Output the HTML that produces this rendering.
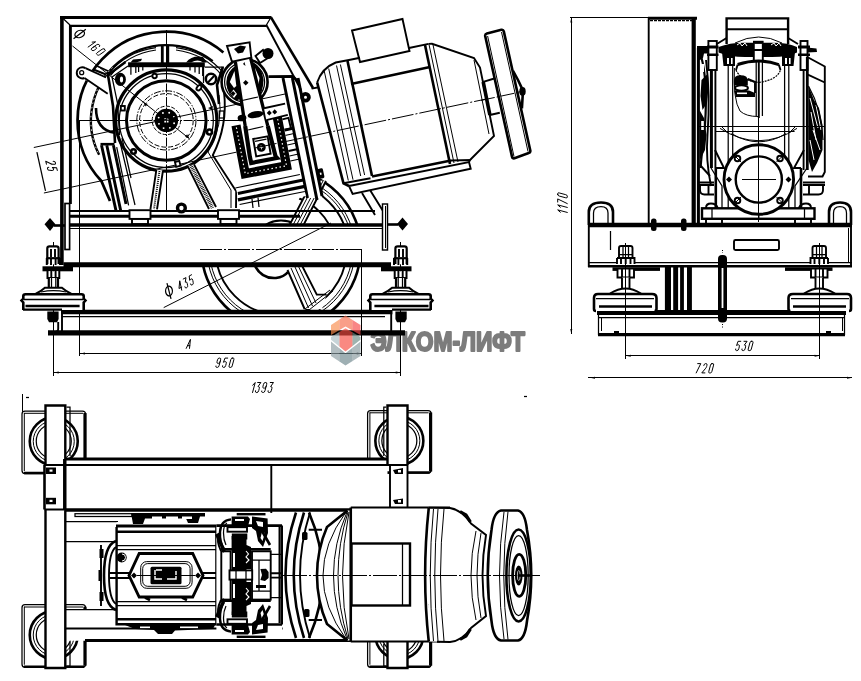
<!DOCTYPE html>
<html><head><meta charset="utf-8">
<style>
html,body{margin:0;padding:0;background:#fff;}
body{width:861px;height:681px;overflow:hidden;font-family:"Liberation Sans",sans-serif;}
svg{display:block;position:absolute;left:0;top:0;}
.k{stroke:#000;fill:none;stroke-width:1.25;}
.t{stroke:#000;fill:none;stroke-width:1.0;}
.m{stroke:#000;fill:none;stroke-width:1.9;}
.b{stroke:#000;fill:none;stroke-width:2.6;}
.B{stroke:#000;fill:none;stroke-width:3.3;}
.w{fill:#fff;}
.f{fill:#000;stroke:none;}
.dim text{font-family:"Liberation Sans",sans-serif;font-style:italic;fill:#000;}
</style></head><body>
<svg width="861" height="681" viewBox="0 0 861 681" shape-rendering="geometricPrecision">
<defs>
<clipPath id="cSheaveLow"><rect x="150" y="266" width="230" height="45"/></clipPath>
<clipPath id="cSheaveUp"><polygon points="262,224 262,219 290,219 300,197 318,176 372,176 372,224"/></clipPath>
<filter id="gray"><feColorMatrix type="saturate" values="0"/></filter>
<filter id="blur2"><feGaussianBlur stdDeviation="0.45"/></filter>
<filter id="blur1"><feGaussianBlur stdDeviation="0.7"/></filter>
</defs>
<rect x="0" y="0" width="861" height="681" fill="#fff"/>
<!-- logo text (under drawing lines) -->
<g filter="url(#blur1)">
<text x="370.4" y="350.6" font-family="Liberation Sans, sans-serif" font-weight="bold" font-size="28.5" fill="#7c7c7c" stroke="#7c7c7c" stroke-width="2.1" stroke-linejoin="round" textLength="154.5" lengthAdjust="spacingAndGlyphs">ЭЛКОМ-ЛИФТ</text>
</g>
<!-- ================= VIEW 1 (front) ================= -->
<g id="v1">
<!-- sheave upper visible part -->
<g clip-path="url(#cSheaveUp)">
 <circle class="b" cx="281" cy="249.5" r="80"/>
 <circle class="t" cx="281" cy="249.5" r="74"/>
 <circle class="t" cx="281" cy="249.5" r="71.5"/>
 <circle class="m" cx="281" cy="249.5" r="67.5"/>
 <circle class="m" cx="281" cy="249.5" r="54"/>
 <circle class="m" cx="281" cy="249.5" r="29"/>
 <path class="w" d="M288.5,227 L313,180 L326,181 L302.5,227 Z"/>
 <path class="m" d="M288.5,227 L313,180 M302.5,227 L326,181"/>
 <path class="t" d="M292,227 L316.5,180 M295.5,227 L320,180 M299,227 L323,181"/>
</g>
<!-- sheave lower visible part -->
<g clip-path="url(#cSheaveLow)">
 <circle class="b" cx="281" cy="249.5" r="79.5"/>
 <circle class="t" cx="281" cy="249.5" r="74"/>
 <circle class="t" cx="281" cy="249.5" r="71.5"/>
 <circle class="m" cx="281" cy="249.5" r="65.5"/>
 <path class="b" d="M255,266 Q262,279 276,278 Q284,277 288,272"/>
 <path class="w" d="M287.5,266 L304.6,309 L322,309 L326.6,294.6 L316.8,294.6 L302.2,266 Z"/>
 <path class="m" d="M287.5,270 L304.6,309 M302.2,266 L316.8,294.6 L326.6,294.6"/>
 <path class="t" d="M291,268 L308.5,308 M295,267 L312.5,306 M298.5,266.5 L316,303"/>
 <path class="t" d="M305,309 L330,290 M309,310 L333,291"/>
</g>
<!-- main beam -->
<rect class="w" x="69" y="226" width="315" height="37"/>
<line class="k" x1="200" y1="249.5" x2="364" y2="249.5" stroke-dasharray="22 2 2 2" style="stroke-width:1.0"/>
<line class="t" x1="163.7" y1="307.6" x2="331" y2="223"/>
<line class="t" x1="79.5" y1="120" x2="79.5" y2="356"/>
<line class="t" x1="361.5" y1="249.5" x2="361.5" y2="356" style="stroke-width:1.0"/>
<!-- beam thick lines -->
<line class="B" x1="69" y1="225" x2="383" y2="225"/>
<line class="t" x1="69" y1="228.5" x2="383" y2="228.5"/>
<line x1="63.5" y1="264.7" x2="391" y2="264.7" stroke="#000" style="stroke-width:4.9"/>
<!-- base plate lines -->
<line class="m" x1="70" y1="211" x2="375" y2="211"/>
<line x1="70" y1="216.3" x2="300" y2="216.3" stroke="#000" style="stroke-width:2.88"/>
<!-- lower channel -->
<line x1="61" y1="312" x2="392.5" y2="312" stroke="#000" style="stroke-width:4.6"/>
<line class="k" x1="62" y1="316.5" x2="385" y2="316.5"/>
<line x1="48" y1="332.9" x2="405" y2="332.9" stroke="#000" style="stroke-width:5.2"/>
<path class="m" d="M62,314 L62,331 M58.2,322 L58.2,329 Q58.2,332 54,332"/>
<path class="m" d="M391.2,314 L391.2,331"/>
</g>
<g id="v1b">
<!-- frame -->
<path class="B" d="M61.9,265 L61.9,16 " style="stroke-width:3.6"/><path class="B" d="M60,17.4 L271.5,17.4" style="stroke-width:3"/>
<path class="b" d="M271,17.3 L313,88"/>
<path class="b" d="M70.4,204 L70.4,25" style="stroke-width:2.9"/><path class="b" d="M69,25.9 L266.8,25.9" style="stroke-width:2.4"/>
<path class="k" d="M61.7,17.3 L70,25 M271,17.3 L266.4,25"/>
<path class="m" d="M266.4,25 L301,90"/>
<!-- frame lower right diagonal -->
<path class="m" d="M362,193 L375,215 M370,190 L383,211"/>
<!-- left side plate -->
<rect class="w" x="65" y="203.5" width="4.6" height="46" stroke="#000" style="stroke-width:1.68"/>
<!-- right side plate -->
<rect class="w" x="382.5" y="204" width="5" height="46" stroke="#000" style="stroke-width:1.44"/>
<line class="t" x1="385.5" y1="206" x2="385.5" y2="248"/>
<!-- side bolts -->
<path class="f" d="M44.5,224.3 L50,218 L55.5,224.3 L50,231 Z"/>
<line class="b" x1="54" y1="225.5" x2="65" y2="225.5"/>
<path class="f" d="M397,224 L402.5,217.5 L408,224 L402.5,230.5 Z"/>
<line class="b" x1="388" y1="224.5" x2="398" y2="224.5"/>

<!-- big handwheel circles -->
<path class="b" d="M223.4,52.5 A88.8,88.8 0 0 0 101.36,181.06 L110,201" style="stroke-width:2.76"/>
<path class="b" d="M212.7,61.1 A75.4,75.4 0 0 0 99.1,154.7" style="stroke-width:2.4"/>
<path d="M112.5,67.5 A75.4,75.4 0 0 0 99.1,154.7" fill="none" stroke="#fff" stroke-width="0.9" stroke-dasharray="1.5 3"/>
<!-- spoke at top -->
<path class="b" d="M162.3,45 L162.3,63 M167.8,45 L167.8,63" style="stroke-width:2.8"/>
<!-- horizontal black bar -->
<rect class="f" x="128.1" y="62.3" width="76.7" height="4.9"/>
<path class="f" d="M130.5,62.5 L133,59.5 L142,58.8 L141,61 L136,62.5 Z M186,62.5 Q192,55 203,57 L207,62.5 L203,62.5 Q198,58.5 191,62.5 Z"/>
<path class="k" d="M130.9,67 L130.9,74.8 M135.8,67 L135.8,73 M138.6,67 L138.6,72 M142.8,67 L142.8,70.5 M190,67 L190,70.5 M195,67 L195,72.5 M199.2,67 L199.2,74 M202.7,67 L202.7,76"/>
<!-- centerlines -->
<line class="t" x1="166.5" y1="30" x2="166.5" y2="211" style="stroke-width:1.0"/>
<line class="t" x1="80" y1="120.5" x2="256" y2="120.5" style="stroke-width:1.0"/>
<!-- flange circles -->
<circle class="w" cx="166.3" cy="120.5" r="50.6"/>
<circle class="b" cx="166.3" cy="120.5" r="50.6" style="stroke-width:3.2"/>
<circle class="k" cx="166.3" cy="120.5" r="47"/>
<circle class="b" cx="166.3" cy="120.5" r="39.8" style="stroke-width:3"/>
<circle class="t" cx="166.4" cy="120.4" r="29.6" stroke-dasharray="7 1.5 1.5 1.5"/>
<circle class="t" cx="166.4" cy="120.4" r="26.8" stroke-dasharray="5 2"/>
<circle class="t" cx="166.4" cy="120.4" r="14.2" stroke-dasharray="4 1.5"/>
<line class="t" x1="166.5" y1="70" x2="166.5" y2="172" stroke-dasharray="9 1.5 1.5 1.5"/>
<line class="t" x1="116" y1="120.5" x2="218" y2="120.5" stroke-dasharray="9 1.5 1.5 1.5"/>
<line class="t" x1="72.5" y1="46" x2="189.6" y2="138.8"/>
<path class="f" d="M143.2,102 l4.5,2 l-2,2.5 z M189.6,138.8 l-4.5,-2 l2,-2.5 z"/>
<circle class="f" cx="166.4" cy="120.4" r="11.7"/>
<circle cx="174.11" cy="123.20" r="0.95" fill="#fff"/><circle cx="169.87" cy="127.83" r="0.95" fill="#fff"/><circle cx="163.60" cy="128.11" r="0.95" fill="#fff"/><circle cx="158.97" cy="123.87" r="0.95" fill="#fff"/><circle cx="158.69" cy="117.60" r="0.95" fill="#fff"/><circle cx="162.93" cy="112.97" r="0.95" fill="#fff"/><circle cx="169.20" cy="112.69" r="0.95" fill="#fff"/><circle cx="173.83" cy="116.93" r="0.95" fill="#fff"/>
<rect x="164.3" y="118.3" width="1.7" height="1.7" fill="#fff"/><rect x="166.8" y="118.3" width="1.7" height="1.7" fill="#fff"/><rect x="164.3" y="120.8" width="1.7" height="1.7" fill="#fff"/><rect x="166.8" y="120.8" width="1.7" height="1.7" fill="#fff"/>
</g>
<g id="v1gear">
<!-- long thin reference lines (dimension 125) -->
<line class="t" x1="33.8" y1="147.5" x2="285" y2="94" style="stroke-width:1.0"/>
<line class="t" x1="43.9" y1="193" x2="256" y2="148" style="stroke-width:1.0"/>
<line class="k" x1="36.9" y1="152.2" x2="45.5" y2="190.8"/>
<!-- phi160 leader -->


<!-- gearbox housing outline left -->
<path class="b" d="M125.5,62 L108,75 L113,106 L115,143"/>
<path class="k" d="M128,66 L112,77 L117.7,104 L119.5,135"/>
<path class="k" d="M108.5,73.6 A73.5,73.5 0 0 1 156,47.7 M110.5,75.5 A71.3,71.3 0 0 1 156,50"/>
<path class="k" d="M176,47.7 A73.5,73.5 0 0 1 224,73.6 M176,50 A71.3,71.3 0 0 1 222,75.5"/>
<!-- lever -->
<path class="w" d="M84,67 L106,77 L107.7,93.7 L85,79.4 Z"/>
<circle class="w" cx="81.7" cy="72.7" r="5.6"/>
<path class="m" d="M85.5,68.2 L106,77.5 M107.7,93.7 L84.5,78"/>
<path class="m" d="M85.5,68.2 A5.6,5.6 0 1 0 84.5,78"/>
<circle class="k" cx="81.7" cy="72.7" r="2"/>
<!-- bracket on radial -->
<path class="m" d="M93.5,69.5 L106,74.5 M97,66 L108,71"/>
<!-- bosses -->
<ellipse class="f" cx="120.4" cy="79.4" rx="5.5" ry="6.6"/>
<ellipse cx="121.5" cy="79.4" rx="1.6" ry="3" fill="#fff"/>
<circle class="w" cx="211" cy="79" r="5.5"/>
<circle class="b" cx="211" cy="79" r="5.2"/>
<line class="m" x1="207.5" y1="83" x2="214" y2="76"/>
<!-- housing top right to brake -->
<path class="k" d="M204.8,67 L224,67 M203.5,67 L203.5,83"/>
<path class="b" d="M222.9,67 L217,85 L219,104"/>
<rect class="w" x="219.3" y="111" width="4.7" height="7"/><rect class="k" x="219.3" y="111" width="4.7" height="7"/>
<!-- flange small bolts -->
<circle class="w" cx="154.6" cy="76" r="2.2"/><circle class="m" cx="154.6" cy="76" r="2.2"/>
<ellipse class="w" cx="199" cy="87.8" rx="2" ry="3" transform="rotate(40 199 87.8)"/><ellipse class="m" cx="199" cy="87.8" rx="2" ry="3" transform="rotate(40 199 87.8)"/>
<rect class="w" x="120.8" y="106" width="4" height="4.5"/><rect class="m" x="120.8" y="106" width="4" height="4.5"/>
<circle class="w" cx="133.5" cy="151.5" r="2.3"/><circle class="b" cx="133.5" cy="151.5" r="2.3"/>
<rect class="w" x="175.5" y="161.5" width="4.5" height="5" transform="rotate(-15 177 164)"/><rect class="m" x="175.5" y="161.5" width="4.5" height="5" transform="rotate(-15 177 164)"/>
<circle class="w" cx="209.5" cy="132" r="2.5"/><circle class="b" cx="209.5" cy="132" r="2.5"/>
<path class="f" d="M208,108 l5,-2 l-1,4 z"/>
<!-- left guard arc and leg -->
<path class="b" d="M96,108 Q96,130 114.4,132.6"/>

<path class="b" d="M100.5,144.2 L114.5,144.2"/>
<path class="B" d="M101.5,145.2 L116,210.6 M106.8,145.2 L120.7,210.6 M113.4,145.2 L126,204" style="stroke-width:2.9"/>
<path class="k" d="M116.7,147.2 L128.6,205.3"/>
<path class="k" d="M119.5,140 L135,205 M122,138 L131,178"/>
<!-- struts -->
<path class="w" d="M156.4,169.6 L163,170.4 L157,209.3 L150.4,209.3 Z"/>
<path class="m" d="M156.4,169.6 L150.4,209.3 M163,170.4 L157,209.3"/>
<path d="M159.5,171 L154,209" stroke="#000" style="stroke-width:1.92" stroke-dasharray="1 1"/>
<path class="w" d="M187.3,165.3 L194,164.4 L216,207 L209,209 Z"/>
<path class="m" d="M187.3,165.3 L209,209 M194,164.4 L216,207"/>
<path d="M190.7,165 L212.5,208" stroke="#000" style="stroke-width:3.6" stroke-dasharray="0.8 0.9"/>
<!-- small ring -->
<circle class="w" cx="181.4" cy="208" r="5"/>
<circle class="b" cx="181.4" cy="208" r="3.9" style="stroke-width:3.4"/>
<!-- foot blocks -->
<rect class="w" x="129.5" y="210.2" width="21" height="8.7"/><rect class="m" x="129.5" y="210.2" width="21" height="8.7"/>
<rect class="w" x="132" y="219" width="16" height="5"/><rect class="m" x="132" y="219" width="16" height="5"/>
<rect class="w" x="218" y="210.2" width="21" height="8.7"/><rect class="m" x="218" y="210.2" width="21" height="8.7"/>
<rect class="w" x="220.5" y="219" width="16" height="5"/><rect class="m" x="220.5" y="219" width="16" height="5"/>
</g>
<g id="v1brake">
<!-- housing right lower outline -->
<path class="m" d="M224,92 Q228,125 212.8,155.3 L236.2,191.3 L236,208"/>
<path class="t" d="M219,95 Q224,125 208,152 L231,190 L231,208"/>

<!-- circle behind bar -->
<circle class="w" cx="244.6" cy="82" r="23"/>
<circle class="b" cx="244.6" cy="82" r="23"/>
<circle class="k" cx="244.6" cy="82" r="20"/>
<circle class="k" cx="244.6" cy="82" r="17.5"/>
<path class="f" d="M236.5,65.5 Q227,70 226.5,84 Q227.5,95 236,100.5 L240.5,99 L236.5,65.5 Z"/>
<path class="w" d="M234.5,71 L229.8,82 L234,88 L236.3,86 Z"/>
<path class="w" d="M233.5,89.5 L237,94 L234,98 L230.5,93.5 Z"/>
<path class="f" d="M252.5,62 Q262,66 263.5,80 Q263,92 258,99 L254,98 Z"/>
<path class="w" d="M255,68 L259.5,78 L258,88 L256,84 Z"/>
<path class="w" d="M258.6,89 L260.5,92 L258.5,96 L257,92.5 Z"/>
<!-- knob -->
<path class="w" d="M255.5,56 L263,50 L268,58 L260,63 Z"/><path class="m" d="M255.5,56 L263,50 L268,58 L260,63 Z"/>
<circle class="f" cx="268" cy="53.5" r="5.5"/>
<!-- mounting plate lines -->
<path class="w" d="M283,77 L293,75 L322,198 L306,198 Z"/>
<path class="b" d="M268.5,76.6 L293,76.4 L299,82.6"/>
<path class="b" d="M283,78 L307.5,198" style="stroke-width:2.9"/>
<path class="b" d="M292.4,78 L317,200 M298,78 L322,196" style="stroke-width:3"/>
<circle class="w" cx="305.5" cy="97.3" r="4.3"/><circle class="b" cx="305.5" cy="97.3" r="3.4" style="stroke-width:3.8"/>
<path class="m" d="M311.6,88.6 L320,87"/>
<rect class="f" x="317.8" y="168.5" width="6" height="10" rx="1.5" transform="rotate(-12 321 174)"/>
<rect x="320" y="172.5" width="1.6" height="2.2" fill="#fff" transform="rotate(-12 321 174)"/>
<!-- fins below magnet -->
<path class="w" d="M236,188 L300,174.5 L306,196 L240,208 Z"/>
<path class="k" d="M235.4,188 L299.9,174.5"/>
<path class="b" d="M237.9,193.4 L303.2,180.1" style="stroke-width:3.1"/>
<path class="b" d="M237.9,199.9 L304.9,186.4" style="stroke-width:3.3"/>
<path class="k" d="M239.6,204.5 L304.9,191.5"/>
<path class="k" d="M252,199 L253,208 M258,197.5 L259,207"/>
<!-- section lines right of magnet -->
<path class="m" d="M276.5,120.8 L288.4,117.8 L291,128.5 L278.5,131.3"/>
<path d="M278,131.6 L292.6,128.4" stroke="#000" stroke-width="3" fill="none"/>
<path class="k" d="M280.5,136.5 L294,133.5 M283,146 L296.4,143 M285,157 L298.5,154 M286,162 L299.5,159"/>
<path class="m" d="M284,152 L298,149"/>
<path class="k" d="M293.5,133 L299.5,160"/>
<!-- magnet block outer U frame -->
<g transform="translate(233.05,126) rotate(-10.8)">
<path class="w" d="M-1.6,0 L-1.6,53.7 L49.7,53.7 L49.7,-4 Z"/>
<path d="M3,0 L3,49.1 L45.1,49.1 L45.1,-5" fill="none" stroke="#000" stroke-width="9.2"/>
<path d="M3,2 L3,49.1 L45.1,49.1 L45.1,-3" fill="none" stroke="#fff" stroke-width="1.2" stroke-dasharray="1.5 2.6"/>
</g>
<!-- brake arm -->
<path class="w" d="M227,46 L249.6,42.3 L251.3,57.6 L275.6,156.5 L277,158 L251.2,163 L249.4,154.5 L235.4,62.7 L232,61.8 Z"/>
<path class="m" d="M227,46 L249.6,42.3 L251.3,57.6 L232,61.8 Z"/>
<path class="f" d="M234,49 L240,45.5 L246,46.5 L243,52.5 L238,53.5 Z"/>
<path d="M235.4,62 L245.2,126 M250.6,58 L267.8,126" fill="none" stroke="#000" stroke-width="3.3"/><path d="M245.2,126 L249.8,156.5 L251.2,163 L277,158 L275.6,156.5 L267.8,126" fill="none" stroke="#000" stroke-width="4.2" stroke-linejoin="miter"/>
<path class="f" d="M243,64 l1.5,-2 l1,4 z"/>
<path class="f" d="M245.7,80 L248.5,82.8 L245.7,85.6 L243,82.8 Z"/>
<path class="f" d="M233,91 L235.5,93.6 L233,96.2 L230.6,93.6 Z"/>
<path class="k" d="M240,101 L258,97"/>
<ellipse class="f" cx="255.5" cy="114.6" rx="8" ry="3.3" transform="rotate(-10 255.5 114.6)"/>
<ellipse class="f" cx="242" cy="118" rx="4.4" ry="3.2" transform="rotate(-10 242 118)"/>
<path class="k" d="M248.1,130 L263.3,126.5"/>
<!-- innermost square + bolt -->
<path class="m" d="M253.2,139 L267.6,136.3 L270.6,153.7 L256.2,156.4 Z"/>
<path class="k" d="M255,141.3 L266.5,139.2"/>
<circle class="f" cx="261.3" cy="147.4" r="4.4"/>
<path d="M259.3,147.7 L263.3,147.1 M261,145.4 L261.6,149.4" stroke="#fff" stroke-width="0.8"/>
<!-- ++ box -->
<path class="w" d="M264,108.2 L285.1,103.6 L287.8,114.8 L266.3,120.1 Z"/>
<path class="m" d="M264,108.2 L285.1,103.6 M287.8,114.8 L266.3,120.1"/>
<path class="f" d="M266.8,112.9 l2.5,-2.6 l2.5,2.6 l-2.5,2.6 z M272.2,111.9 l2.5,-2.6 l2.5,2.6 l-2.5,2.6 z"/>
</g>
<g id="v1motor">
<!-- motor body white mask -->
<path class="w" d="M317,82.7 Q322,68 335.7,62.5 L349,60 L428.5,43.9 L431,44 L474,58 L480,67.5 L494,136 L470,160 L469,162 L470.7,168.8 L352.6,194 L349,186 L343.5,183.3 Z"/>
<!-- terminal box -->
<path class="w" d="M352,30.5 L402.5,19 L409.5,51 L360,62 Z"/>
<path class="m" d="M352,30.5 L402.5,19 L409.5,51 L360,62 Z"/>
<!-- body top -->
<path class="m" d="M317,82.7 Q322,68 335.7,62.5 L349,60 L360,57.8 M409,48 L428.5,43.9"/>
<path class="b" d="M351,84 L430,67"/>
<!-- front flange lines -->
<path class="b" d="M317.2,82.7 L343.5,183.3 L349,186"/>
<path class="m" d="M343.5,183.3 L370.5,178.2"/>
<path class="t" d="M324,70 L348.3,180.5 M328.7,68.5 L353,179.7 M336.5,65.5 L360.7,176 M340.4,64.5 L364.6,175"/>
<path class="b" d="M347.5,61 L372,176"/>
<!-- bottom -->
<path class="m" d="M349,186 L469,162 L470.7,168.8 L352.6,194 Z"/>
<path class="b" d="M372,176.5 L451,160.5"/>
<!-- rear flange / bell -->
<path class="b" d="M425,45 L450,164"/>
<path class="t" d="M429,44.5 L454,163 M433,44.8 L458,162"/>
<path class="m" d="M428.5,43.9 L432,43.8 L474,58 L480,67.5 L494,136 L470,160"/>
<path class="t" d="M474,60 L489,134"/>
<path class="m" d="M451,160.5 L470,160 L469,162"/>
<!-- center line -->
<line class="t" x1="255" y1="148" x2="524" y2="91" stroke-dasharray="22 2 2 2" style="stroke-width:1.0"/>
<!-- shaft stub -->
<path class="w" d="M483.2,81.8 L494.3,78.5 L499.8,112.7 L489.9,115 Z"/>
<path class="m" d="M483.2,81.8 L494.3,78.5 M489.9,115 L499.8,112.7"/>
<path class="B" d="M483.2,81.8 L489.9,115" style="stroke-width:3.6"/>
<!-- handwheel -->
<path class="w" d="M485.2,36 Q484.9,34 486.9,33.4 L501.3,29.8 Q503.3,29.4 503.8,31.4 L530.3,150.5 Q530.7,152.5 528.7,153 L514.5,158.3 Q512.5,158.8 512,156.6 Z"/>
<path class="b" d="M485.2,36 Q484.9,34 486.9,33.4 L501.3,29.8 Q503.3,29.4 503.8,31.4 L530.3,150.5 Q530.7,152.5 528.7,153 L514.5,158.3 Q512.5,158.8 512,156.6 Z"/>
<path class="t" d="M487.6,36 L514,156.5 M501.5,32 L528,151.5"/>
<path class="b" d="M513,70.8 L518,80 L523,90.6 L521.9,108.3"/>
<ellipse class="f" cx="522.5" cy="91.5" rx="3.2" ry="4.4"/>
<line class="t" x1="481" y1="100.4" x2="517" y2="92.7" stroke-dasharray="14 2 2 2"/>
</g>
<g id="v1feet">
<!-- left foot: center x=53.75 -->
<g id="footL">
 <line class="t" x1="53.5" y1="242" x2="53.5" y2="376"/>
 <!-- upper nut / stud top -->
 <rect class="w" x="47.3" y="246.3" width="11.3" height="18"/>
 <path class="b" d="M47.3,264 L47.3,248.5 Q47.3,246.3 49.5,246.3 L56.4,246.3 Q58.6,246.3 58.6,248.5 L58.6,264" style="stroke-width:2.2"/>
 <path class="m" d="M51,249 L51,257 M55,249 L55,257"/>
 <path class="b" d="M46.5,258.2 L60.2,258.2" style="stroke-width:2.2"/>
 <path class="b" d="M46.8,258 L46.8,265 M60,258 L60,265" style="stroke-width:2"/>
 <path class="m" d="M51,259 L51,265 M55.6,259 L55.6,265"/>
 <!-- washer -->
 <rect class="f" x="42.5" y="266.3" width="30.5" height="5"/>
 <!-- lower nut -->
 <rect class="w" x="47.3" y="271.3" width="12" height="6.5"/>
 <path class="b" d="M47.5,271 L47.5,278 L59.3,278 L59.3,271" style="stroke-width:2"/>
 <path class="m" d="M51.3,271 L51.3,278 M55.6,271 L55.6,278"/>
 <!-- stud -->
 <rect class="w" x="48.5" y="278" width="10" height="10"/>
 <path class="b" d="M48.8,278 L48.8,288 M58,278 L58,288" style="stroke-width:2.2"/>
 <path class="k" d="M51.5,278 L51.5,288 M55.8,278 L55.8,288"/>
 <!-- dome -->
 <path class="w" d="M36,294 L44.9,287.5 L61.9,287.5 L70.7,294 Z"/>
 <path class="b" d="M35,294.2 Q41,291.5 44.9,287.8 L61.9,287.8 Q66,291.5 72,294.2" style="stroke-width:2"/>
 <path class="k" d="M41,292 Q53.5,289.3 66,292"/>
 <!-- body -->
 <rect class="w" x="22.3" y="294" width="62.2" height="16"/>
 <path class="b" d="M23.3,310 L23.3,302.5 L21.5,300.5 L23.3,298.5 L23.3,296 Q23.3,294.3 25.5,294.3 L81.5,294.3 Q83.7,294.3 83.7,296 L83.7,298.5 L85.5,300.5 L83.7,302.5 L83.7,310"/>
 <line class="k" x1="24" y1="299.5" x2="83" y2="299.5" style="stroke-width:1.4"/>
 <line class="b" x1="25.5" y1="306" x2="79.6" y2="306" style="stroke-width:2.5"/>
 <line class="b" x1="23" y1="309.6" x2="62" y2="309.6" style="stroke-width:2.4"/>
 <!-- nut below -->
 <path class="f" d="M47.3,311.5 L58.6,311.5 L58.6,319 L57,322.2 L49,322.2 L47.3,319 Z"/>
</g>
<use href="#footL" transform="translate(454,0) scale(-1,1)"/>
</g>
<!-- ================= VIEW 2 (side) ================= -->
<g id="v2">
<!-- dimension lines -->
<line class="t" x1="571.5" y1="17.5" x2="571.5" y2="334"/>
<line class="t" x1="570" y1="17.5" x2="649" y2="17.5"/>
<!-- frame column -->
<rect class="w" x="648.5" y="18" width="46" height="207"/>
<line class="m" x1="648.7" y1="18" x2="648.7" y2="225"/>
<line class="B" x1="648" y1="18.3" x2="697" y2="18.3" style="stroke-width:3.12"/>
<line class="k" x1="650" y1="20.5" x2="694" y2="20.5" stroke-dasharray="3 1"/>
<line x1="693.7" y1="18" x2="693.7" y2="225" stroke="#000" style="stroke-width:4.2"/>
<!-- main beam -->
<rect class="w" x="589" y="225" width="262" height="41"/>
<line x1="588" y1="225" x2="852" y2="225" stroke="#000" style="stroke-width:4.32"/>
<line class="m" x1="588.8" y1="225" x2="588.8" y2="267"/>
<line class="m" x1="851" y1="225" x2="851" y2="267"/>
<line class="t" x1="848.5" y1="228" x2="848.5" y2="262"/>
<line class="k" x1="588" y1="262.5" x2="852" y2="262.5"/>
<line class="b" x1="588" y1="266.2" x2="852" y2="266.2" style="stroke-width:2.4"/>
<line class="k" x1="610.5" y1="231" x2="610.5" y2="250"/>
<!-- lifting eyes -->
<path class="b" d="M588.8,225 L588.8,212 Q588.8,202.5 601,202.5 Q613,202.5 613,212 L613,225"/>
<path class="k" d="M593.5,225 L593.5,213 Q593.5,206.5 601,206.5 Q608,206.5 608,213 L608,225"/>
<path class="b" d="M829,225 L829,212 Q829,202.5 840,202.5 Q851,202.5 851,212 L851,225"/>
<path class="k" d="M833.5,225 L833.5,213 Q833.5,206.5 840,206.5 Q846.5,206.5 846.5,213 L846.5,225"/>
<!-- column bolts -->
<rect class="f" x="651" y="218.5" width="5.5" height="12.5" rx="2.5"/>
<rect class="f" x="681" y="218.5" width="5.5" height="12.5" rx="2.5"/>
<!-- slot rect -->
<rect class="m" x="734" y="240" width="45" height="10" rx="1.5"/>
<!-- sheave bars -->
<rect class="f" x="664.9" y="267" width="6.1" height="44"/>
<rect class="f" x="673.2" y="267" width="4.9" height="44"/>
<rect class="f" x="680.1" y="267" width="3.8" height="44"/>
<rect class="f" x="687" y="267" width="4.9" height="44"/>
<!-- lower channel -->
<line x1="597" y1="312.6" x2="846" y2="312.6" stroke="#000" style="stroke-width:5.04"/>
<line class="k" x1="598" y1="317.5" x2="845" y2="317.5"/>
<line class="b" x1="598" y1="334.6" x2="845" y2="334.6" style="stroke-width:3.12"/>
<line class="k" x1="598.5" y1="313" x2="598.5" y2="335"/>
<line class="k" x1="844.5" y1="313" x2="844.5" y2="335"/>
<line class="t" x1="601.5" y1="317" x2="601.5" y2="331"/>
<line class="t" x1="842.5" y1="317" x2="842.5" y2="331"/>
<rect class="f" x="614" y="331" width="5" height="3"/>
<rect class="f" x="826" y="331" width="5" height="3"/>
<!-- rope clamp bolt -->
<rect class="f" x="718" y="255" width="9" height="67.5" rx="4"/>
<rect x="721.6" y="268" width="1.8" height="40" fill="#fff"/>
<path class="t" d="M722.5,250 L722.5,253 M722.5,324 L722.5,328" stroke-dasharray="1 1.5"/>
</g>
<g id="v2m">
<!-- body white -->
<rect class="w" x="698" y="44" width="127" height="164"/>
<!-- motor box -->
<rect class="w" x="726.6" y="18.4" width="61.5" height="26"/>
<path class="b" d="M726.6,44 L726.6,18.4 L788.1,18.4 L788.1,44" style="stroke-width:2.4"/>
<line class="m" x1="726.6" y1="29.3" x2="788.1" y2="29.3"/>
<path class="t" d="M735,43 Q758.8,31 782,43"/>
<!-- left column thick lines -->
<path class="B" d="M698.4,48 L698.4,225" style="stroke-width:3"/>
<path class="f" d="M697,46 L709,46 L709,53.5 L704,53.5 L703,58 L700,60 L697,60 Z"/>
<path class="f" d="M701.5,80 L707.5,74 L708.5,88 L707,103 L702.5,110 L700.5,96 Z"/>
<path class="f" d="M699.5,110 L704,118 L706.5,135 L705,150 L700,160 Z"/>
<path class="b" d="M701,56 Q708,80 705,125 Q702,150 700.5,168" style="stroke-width:2.2"/>
<path class="m" d="M706,60 Q710.5,95 707.5,135 Q705.5,160 711,186"/>
<path class="m" d="M700,165 L710,176"/>
<rect class="w" x="700.5" y="64" width="3.5" height="8"/><rect class="w" x="701.2" y="121" width="2.6" height="9"/>
<!-- black band -->
<path class="f" d="M718.5,47 Q730,42.5 745,42.7 L772,42.7 Q788,42.5 797,47 L797,52.5 Q788,57 772,57 L745,57 Q730,57 718.5,52.5 Z"/>
<path class="f" d="M722,52 L735,56 L735,66 L723.5,66 Z M795,52 L782,56 L782,66 L793.5,66 Z"/>
<rect x="727" y="58" width="2" height="6" fill="#fff"/><rect x="731" y="58" width="1.6" height="6" fill="#fff"/>
<rect x="785" y="58" width="2" height="6" fill="#fff"/><rect x="789" y="58" width="1.6" height="6" fill="#fff"/>
<path d="M737,45 l3,-2 l2,3 l3,-3 l2,3 M771,45 l3,-2 l2,3 l3,-3 l2,3" stroke="#fff" style="stroke-width:1.0" fill="none"/>
<!-- center post -->
<rect class="w" x="753.8" y="43.5" width="9" height="17"/>
<path class="m" d="M753.8,43.5 L753.8,60.5 M762.8,43.5 L762.8,60.5 M753.8,50 L762.8,50"/>
<rect class="f" x="753" y="40.8" width="10.6" height="3"/>
<!-- bolt assemblies -->
<rect class="w" x="708.4" y="41" width="8.4" height="29"/><rect class="m" x="708.4" y="41" width="8.4" height="29"/>
<rect class="f" x="707" y="45.5" width="11.5" height="3"/><rect class="f" x="707" y="53.5" width="11.5" height="2.5"/>
<rect class="w" x="800.5" y="41" width="7" height="29"/><rect class="m" x="800.5" y="41" width="7" height="29"/>
<rect class="f" x="798" y="45.5" width="12" height="3"/><rect class="f" x="798" y="53.5" width="12" height="2.5"/>
<path class="f" d="M807,47.5 L816.5,48.5 L817,52 L807,52.5 Z"/>
<path class="m" d="M716.8,44 L726.6,38 M798,44 L788.1,38"/>
<!-- umbrella arc -->
<path class="B" d="M737.7,64.6 Q758.8,57.5 778.8,64.6" style="stroke-width:3.12"/>
<path class="m" d="M737.7,64.6 L736,70 M778.8,64.6 L780.5,70"/>
<!-- chain arc and U-bag -->
<path class="k" d="M736,70 Q740,80 758.8,82.5 Q777,80 780.5,70" stroke-dasharray="2 1"/>
<path class="t" d="M734.4,68 Q733,100 740,111 Q746,116.5 758,116.5"/>
<!-- oil cap -->
<path class="f" d="M734,80.5 Q734,75.3 740.5,75.3 Q747.8,75.3 747.8,80.5 L747.8,85.5 L734,85.5 Z"/>
<ellipse class="w" cx="741.5" cy="88" rx="6.5" ry="2.6"/><ellipse class="m" cx="741.5" cy="88" rx="6.5" ry="2.6"/>
<path class="f" d="M734,90.5 L749,90.5 L755,93 L755,97 L736,97 Z"/>
<rect x="737" y="92.5" width="10" height="1.6" fill="#fff"/>
<path class="m" d="M747.8,79 L755,82 L755,93"/>
<!-- vertical body lines -->
<path class="b" d="M711.4,69 L711.4,168" style="stroke-width:3"/><path class="m" d="M715.4,69 L715.4,168"/>
<path class="k" d="M728.2,66 L728.2,170 M732.7,66 L732.7,160"/>
<path class="k" d="M756.2,62 L756.2,116 M762.4,62 L762.4,116"/>
<path class="m" d="M758.8,60 L758.8,118"/>
<path class="k" d="M784.6,66 L784.6,160 M788.8,66 L788.8,170"/>
<path class="m" d="M803.6,70 L803.6,170"/><path class="b" d="M807.3,57 L807.3,170" style="stroke-width:2.8"/>
<!-- right flap -->
<path class="m" d="M807.3,57 L824.8,66.5 L824.8,172 L822.5,176.5 L808,176.5"/>
<path class="m" d="M807.3,74.4 L824.8,82.5"/>
<path class="f" d="M808.5,86 L814,100 L819,108 L822.5,125 L822.5,150 L817,163 L812,172 L808.5,160 Z"/>
<path d="M810,98 L818,128 M811,112 L816,140 M813,130 L820,150 M810,140 L814,160 M816,105 L821,130" stroke="#fff" stroke-width="1" fill="none"/>
<path class="k" d="M808.5,86 Q822,110 823,140"/>
<!-- horizontal lines mid -->
<line class="t" x1="697" y1="126.5" x2="825" y2="126.5"/>
<line class="t" x1="715.7" y1="131.5" x2="794.6" y2="131.5"/>
<path class="t" d="M720,128.4 Q758.8,153 797,128.4 M731.5,133.6 Q758.8,150 786,133.6"/>
<path class="t" d="M722,127 l6,6 M795,127 l-6,6"/>
<line class="t" x1="758.5" y1="118" x2="758.5" y2="220"/>
</g>
<g id="v2f">
<!-- lower housing sides -->
<path class="m" d="M715,150 L724,168 L716,168 M804,150 L794,168 L801,168"/>
<path class="b" d="M715.8,168 L715.8,208 M801,168 L801,208" style="stroke-width:2.6"/>
<path class="k" d="M711,168 L722,186 L722,208 M807,168 L795,186 L795,208"/>
<path class="k" d="M728.2,170 L728.2,208 M788.8,170 L788.8,208"/>
<!-- side brackets -->
<path class="m" d="M698.5,182.5 L714,182.5 M698.5,185 L714,185 M700,185 L700,190 Q700,194.5 704.5,194.5 L714,194.5 M708.5,185 L708.5,194.5"/>
<path class="m" d="M825,182.5 L803,182.5 M825,185 L803,185 M823,185 L823,190 Q823,194.5 818.5,194.5 L803,194.5 M809,185 L809,194.5"/>
<!-- base plate -->
<rect class="w" x="702" y="208.3" width="112.5" height="10.5"/>
<rect class="b" x="702" y="208.3" width="112.5" height="10.5" style="stroke-width:2.4"/>
<path class="k" d="M712,208.3 L712,218.8 M804.5,208.3 L804.5,218.8 M758.8,208.3 L758.8,218.8"/>
<path class="m" d="M706,218.8 L706,224 M722,218.8 L722,224 M795,218.8 L795,224 M811,218.8 L811,224"/>
<path class="m" d="M706,208 Q706,203.5 711,203.5 Q716,203.5 717.8,208 M811,208 Q811,203.5 806,203.5 Q801,203.5 798.8,208"/>
<!-- flange -->
<circle class="w" cx="758.8" cy="179.5" r="34.8"/>
<circle class="b" cx="758.8" cy="179.5" r="34.8" style="stroke-width:2.88"/>
<circle class="b" cx="758.8" cy="179.5" r="23.1" style="stroke-width:2.4"/>
<line class="t" x1="742" y1="179.5" x2="776" y2="179.5"/>
<line class="t" x1="758.5" y1="140" x2="758.5" y2="222"/>
<circle class="m" cx="737.5" cy="158.5" r="2.8"/><circle class="m" cx="780" cy="158.5" r="2.8"/>
<circle class="m" cx="737.5" cy="200.5" r="2.8"/><circle class="m" cx="780" cy="200.5" r="2.8"/>
<path class="f" d="M726,179.5 l3,-3 l3,3 l-3,3 z M785.5,179.5 l3,-3 l3,3 l-3,3 z"/>
<path class="t" d="M734,155 l7,7 M783.5,155 l-7,7 M734,204 l7,-7 M783.5,204 l-7,-7"/>
</g>
<g id="v2feet">
<g id="footS">
 <rect class="w" x="619" y="246" width="13.5" height="17" />
 <path class="m" d="M619,263 L619,248 Q619,246 621,246 L630.5,246 Q632.5,246 632.5,248 L632.5,263"/>
 <path class="k" d="M623,247 L623,262 M628.5,247 L628.5,262 M619,254.5 L632.5,254.5"/>
 <rect class="w" x="617" y="258" width="17.5" height="6"/>
 <path class="m" d="M617,258 L634.5,258 L634.5,264 M617,264 L617,258 M621,258 L621,264 M625.7,258 L625.7,264 M630.5,258 L630.5,264"/>
 <rect class="f" x="612.5" y="267.3" width="47.5" height="3.6"/>
 <rect class="w" x="617.5" y="269.5" width="16.5" height="8"/>
 <path class="m" d="M617.5,269 L617.5,277.5 L634,277.5 L634,269 M622,269 L622,277.5 M629.5,269 L629.5,277.5"/>
 <rect class="w" x="622" y="277.5" width="7.5" height="12"/>
 <path class="m" d="M622,277.5 L622,290 M629.5,277.5 L629.5,290"/>
 <path class="w" d="M594.5,311 L594,296 L610,293.5 Q618,289 625.75,288.5 Q633,289 641,293.5 L657,296 L656.5,311 Z"/>
 <path class="m" d="M610,293.5 Q618,288.5 625.75,288.5 Q633,288.5 641,293.5"/>
 <path class="b" d="M596,311 Q594,311 594,309 L594,298 Q594,294 598,294 L652,294 Q656.5,294 656.5,298 L656.5,309 Q656.5,311 654.5,311"/>
 <line class="k" x1="596" y1="298.5" x2="654" y2="298.5"/>
 <line class="b" x1="599" y1="306.5" x2="652" y2="306.5"/>
 <line class="t" x1="625.5" y1="243" x2="625.5" y2="359" style="stroke-width:1.0"/>
</g>
<use href="#footS" transform="translate(1445,0) scale(-1,1)"/>
</g>
<!-- ================= VIEW 3 (top) ================= -->
<g id="v3">
<line class="t" x1="22.5" y1="394" x2="22.5" y2="412"/>
<line class="k" x1="26" y1="397.5" x2="29" y2="397.5"/>
<line class="k" x1="524" y1="396.5" x2="527" y2="396.5"/>
<!-- foot pads -->
<g id="pad">
 <rect class="w" x="22" y="411" width="63.5" height="62.5" rx="3"/>
 <rect class="k" x="22" y="411" width="63.5" height="62.5" rx="3"/>
 <path class="B" d="M85,413 L85,472" style="stroke-width:3.2"/>
 <path class="b" d="M24,473 L84,473" style="stroke-width:2.4"/>
 <path class="t" d="M24.3,413 L24.3,471 M24,413.3 L83,413.3"/>
 <circle class="b" cx="53.75" cy="441.3" r="24"/>
 <circle class="k" cx="53.75" cy="441.3" r="17.5"/>
 <circle class="t" cx="53.75" cy="441.3" r="20.5"/>
</g>
<use href="#pad" transform="translate(0,193.7)"/>
<use href="#pad" transform="translate(345.6,-0.5)"/>
<use href="#pad" transform="translate(345.6,193.7)"/>
<!-- lower beam -->
<rect class="w" x="65" y="609.75" width="286" height="31"/>
<line class="k" x1="65" y1="609.5" x2="118" y2="609.5"/>
<line class="m" x1="65" y1="628.5" x2="351" y2="628.5"/>
<line class="B" x1="85" y1="640.5" x2="351" y2="640.5" style="stroke-width:3.12"/>
<!-- upper beam -->
<rect class="w" x="65" y="458" width="322.5" height="52"/>
<line class="B" x1="65" y1="459" x2="388" y2="459" style="stroke-width:3.12"/>
<line class="m" x1="65" y1="465" x2="388" y2="465"/>
<line class="B" x1="64" y1="510" x2="351" y2="510" style="stroke-width:3.6"/>
<line class="m" x1="271.3" y1="465" x2="271.3" y2="521"/>
<!-- left cross bar -->
<rect class="w" x="45.5" y="405.5" width="19.8" height="262.5"/>
<path class="b" d="M45.5,668 L45.5,405.5 L65.3,405.5 L65.3,668 Z" style="stroke-width:2.4"/>
<path class="k" d="M66.5,407 L70,407 L70,456 M66.5,666 L70,666 L70,642"/>
<!-- left side plate -->
<rect class="w" x="44.5" y="465" width="19.5" height="44.5"/>
<path class="b" d="M44.5,465 L44.5,509.5" style="stroke-width:2.6"/><path class="m" d="M44.5,509.5 L64,509.5 M44.5,465 L64,465 M64,459 L64,510"/>
<rect class="f" x="46" y="467.5" width="10" height="6.5"/><rect x="49.5" y="469.5" width="3" height="2.2" fill="#fff"/>
<rect class="f" x="46" y="497.8" width="10" height="6.5"/><rect x="49.5" y="499.8" width="3" height="2.2" fill="#fff"/>
<!-- thin lines to gearbox -->
<line class="k" x1="65.3" y1="521.5" x2="118" y2="521.5"/>
<line class="k" x1="65.3" y1="541.5" x2="118" y2="541.5"/>
<!-- right cross bar -->
<rect class="w" x="387.5" y="405.5" width="20" height="59.5"/>
<path class="b" d="M387.5,465 L387.5,405.5 L407.5,405.5 L407.5,465" style="stroke-width:2.4"/>
<path class="k" d="M386.3,407 L383.8,407 L383.8,456"/>
<rect class="w" x="390" y="465" width="17.5" height="43"/>
<path class="m" d="M390,465 L390,508 M407.5,465 L407.5,508 M387.5,465 L407.5,465"/>
<path class="f" d="M393,470 L403,468 L403,474 L395,474 Z M393,500 L403,498.5 L403,504 L395,504 Z"/>
<rect x="398" y="470" width="3" height="2.5" fill="#fff"/><rect x="398" y="500" width="3" height="2.5" fill="#fff"/>
<rect class="w" x="387.5" y="641.5" width="20" height="26.5"/>
<path class="b" d="M387.5,641.5 L387.5,668 L407.5,668 L407.5,641.5" style="stroke-width:2.4"/>
<path class="k" d="M386.3,666 L383.8,666 L383.8,644"/>
</g>
<g id="v3m">
<!-- gearbox body -->
<rect class="w" x="116.6" y="522" width="100" height="103"/>
<path class="b" d="M116.6,527 L116.6,624.3 L216.4,624.3 L216.4,527" style="stroke-width:2.4"/>
<line class="B" x1="116" y1="526" x2="217" y2="526" style="stroke-width:3.12"/>
<line class="b" x1="116.6" y1="531.7" x2="216.4" y2="531.7"/>
<line class="k" x1="116.6" y1="545.5" x2="216.4" y2="545.5"/><line class="k" x1="116.6" y1="549.5" x2="216.4" y2="549.5"/>
<line class="k" x1="116.6" y1="601.5" x2="216.4" y2="601.5"/><line class="k" x1="116.6" y1="605.5" x2="216.4" y2="605.5"/>
<line class="b" x1="116.6" y1="619.2" x2="216.4" y2="619.2"/>
<!-- bumps above/below -->
<rect class="w" x="75" y="513.7" width="57" height="2.8"/><rect class="k" x="75" y="513.7" width="57" height="2.8"/><path class="f" d="M131,513 L205,513 L205,516.5 L200,516.5 L198,523 L188,523 L186,518.5 L145,518.5 L143,524 L133,524 Z"/>
<rect x="152" y="516.5" width="10" height="2.5" fill="#fff"/><rect x="166" y="516.5" width="12" height="2.5" fill="#fff"/><rect x="182" y="516.5" width="10" height="2.5" fill="#fff"/>
<path class="f" d="M125,625 L215,625 L213,629 L175,630.5 L172,634 L158,634 L154,630 L135,629 Z"/>
<rect x="140" y="626.5" width="10" height="1.6" fill="#fff"/><rect x="180" y="626.5" width="18" height="1.6" fill="#fff"/>
<!-- left end cap -->
<path class="b" d="M116,541 Q104,545 104,575.5 Q104,606 116,610"/>
<path class="m" d="M116,547 Q109,552 109,575.5 Q109,599 116,604"/>
<path class="f" d="M99.5,549 h4 v9 h-4 z M99.5,592 h4 v9 h-4 z M98.5,570 h3 v11 h-3 z"/>
<path class="m" d="M101,545 L101,606"/>
<circle class="f" cx="121.7" cy="557.5" r="5"/>
<path d="M122,554 A3.5,3.5 0 0 1 122,561" stroke="#fff" style="stroke-width:1.0" fill="none"/>
<path class="m" d="M109.4,573 L129,573 M109.4,578 L129,578"/>
<!-- nameplate -->
<path class="w" d="M139.2,553.5 L192.7,553.5 L203,575.5 L192.7,597 L139.2,597 L129,575.5 Z"/>
<path class="B" d="M139.2,553.5 L192.7,553.5 L203,575.5 L192.7,597 L139.2,597 L129,575.5 Z" style="stroke-width:2.88"/>
<rect class="t" x="140.7" y="561.6" width="51.4" height="26.7" rx="6"/>
<rect class="t" x="142.7" y="563.6" width="47.4" height="22.7" rx="5"/>
<rect class="f" x="150.5" y="566.7" width="31" height="17.5" rx="1.5"/>
<path d="M156,570 h6 M155,570 v9 h7 M167,579 h6 M176,571 v8 h-3" stroke="#fff" style="stroke-width:1.44" fill="none"/>
<path class="f" d="M131,575.5 l3,-3 l3,3 l-3,3 z M195,575.5 l3,-3 l3,3 l-3,3 z"/>
<line class="t" x1="137" y1="575.5" x2="195" y2="575.5"/>
<path class="m" d="M203,573 L230,573 M203,578 L230,578"/>
<path class="b" d="M145,597.5 L150,600 M182,597.5 L187,600"/>
</g>
<g id="v3b">
<!-- brake outline -->
<rect class="w" x="216.4" y="513" width="66" height="124"/>
<path class="b" d="M216.4,525.6 L282,525.6 M216.4,624.5 L282,624.5"/>
<path class="b" d="M282,525.6 L282,624.5 M279.6,527 L279.6,623" style="stroke-width:2.16"/>
<path class="k" d="M270,554.4 L282,554.4 M270,597.6 L282,597.6"/>
<!-- top & bottom clusters -->
<g id="clusterT">
<path class="b" d="M236.7,514.2 L265.5,514.2" style="stroke-width:2.4"/>
<path class="f" d="M231.6,516.5 L248,516.5 L250,519 L248,526 L231.6,526 Z"/>
<rect x="235" y="519" width="9" height="2" fill="#fff"/>
<rect class="w" x="227.5" y="527.2" width="19.5" height="4.5"/><rect class="m" x="227.5" y="527.2" width="19.5" height="4.5"/>
<rect class="f" x="231.8" y="533.5" width="15.5" height="6"/>
<path class="f" d="M252,516.5 L267.6,518.5 L268,533 L263,547 L258,541 L256,531 L252,528 Z"/>
<path class="w" d="M256,521 L263,522 L263,527 L258,526 Z M262,532 L265,533 L262.5,541 L260.5,538 Z"/>
<path class="b" d="M231,519.4 Q220.5,520.5 220,532 Q219.5,542 224,549" style="stroke-width:2.4"/>
<path class="k" d="M227,523 Q223.5,525 223.5,533 Q223.5,540 226,545"/>
</g>
<use href="#clusterT" transform="translate(0,1151) scale(1,-1)"/>
<!-- diagonal corners -->
<path class="B" d="M216.5,534 L224.4,552 M216.5,617 L224.4,599" style="stroke-width:3.12"/>
<path class="b" d="M262,531 L270,545 M262,620 L270,606"/>
<path class="m" d="M219,533 Q216,541 221,551 M219,618 Q216,610 221,600"/>
<!-- horizontal bars -->
<path class="b" d="M221,549.2 L270.7,549.2 M221,600.7 L270.7,600.7"/>
<!-- boxes -->
<rect class="m" x="221.3" y="551.3" width="9.3" height="48.3"/>
<rect class="m" x="252" y="551.3" width="18.7" height="48.3"/>
<path class="k" d="M252,560 L270.7,560 M252,591 L270.7,591 M259,560 L259,591"/>
<path class="f" d="M260.4,569 L266,568.8 L268.6,572 L268.6,578 L265,581 L260.4,580 L262,575 Z"/>
<rect class="f" x="256" y="585" width="10" height="3"/>
<!-- black center mass -->
<path class="f" d="M231.6,536 L246.5,536 L246.5,545 L251,547 L251,569 L246.5,569 L246.5,582 L251,582 L251,604 L246.5,606 L246.5,615 L231.6,615 Z"/>
<path d="M246,551 l2.5,3 l-2.5,3 l3,3 l-3,3 M246,588 l2.5,3 l-2.5,3 l3,3 l-3,3" stroke="#fff" stroke-width="1.1" fill="none"/>
<rect x="233" y="553" width="2" height="14" fill="#fff"/><rect x="233" y="584" width="2" height="14" fill="#fff"/>
<rect class="w" x="229.5" y="570.4" width="22.7" height="9.2"/>
<rect class="m" x="229.5" y="570.4" width="22.7" height="9.2"/>
<path class="k" d="M236,570.4 L236,579.6 M246,570.4 L246,579.6"/>
<path class="m" d="M270.7,573.3 L282,573.3 M270.7,577.6 L282,577.6"/>
</g>
<g id="v3mot">
<!-- motor flange ellipses -->
<rect class="w" x="283" y="512" width="68" height="127"/>
<path class="b" d="M296,512.5 Q275,575.3 296,638 " />
<path class="b" d="M304,512.5 Q283.5,575.3 304,638 "/>
<path class="m" d="M310,512.5 Q290,575.3 310,638"/>
<path class="b" d="M309,512.5 Q336,575.3 309,638"/>
<path class="m" d="M308.7,529.7 L322,529.7 M308.7,620 L322,620"/>
<rect class="f" x="302" y="532" width="5.5" height="8" rx="1.5"/><rect class="f" x="304" y="609" width="5.5" height="8" rx="1.5"/>
<!-- front bell -->
<path class="w" d="M347.5,510.5 L327,527 Q317,550 317,575.5 Q317,601 327,624 L347.5,640.5 L351,640.5 L351,510.5 Z"/>
<path class="b" d="M347.5,510.5 L327,527 Q317,550 317,575.5 Q317,601 327,624 L347.5,640.5"/>
<path class="t" d="M346,512 Q300,575.5 346,639 M347,512 Q320,575.5 347,639 M348,512 Q328,575.5 348,639 M349,512 Q336,575.5 349,639"/>
<!-- motor rect -->
<rect class="w" x="350.75" y="507.5" width="78" height="134"/>
<path class="b" d="M350.75,507.5 L350.75,641.5" />
<path class="m" d="M350.75,507.5 L450,507.5 M350.75,641.5 L440,641.5"/>
<!-- terminal box -->
<rect class="b" x="351.5" y="543.5" width="58.5" height="62" style="stroke-width:2.4"/>
<line class="k" x1="402.5" y1="543.5" x2="402.5" y2="605.5"/>
<!-- rear bell -->
<path class="w" d="M428.75,507.5 L450,508 L465,516 L471,523.5 L486,535 L486,616 L471,628 L465,635 L450,642 L428.75,641.5 Z"/>
<path class="b" d="M428.75,508 Q421.5,575.5 428.75,641.5"/>
<path class="t" d="M433.5,509 Q427,575.5 433.5,641 M438,509 Q431.5,575.5 438,641 M444,509 Q437,575.5 444,641"/>
<path class="m" d="M428.75,507.8 L450,508 Q462,510 471,523.5 L486,535 Q479,575.5 486,616 L471,628 Q462,641 450,642 L437,641.8"/>
<path class="B" d="M460,511.5 L466,515 L470.5,522 M460,639.5 L466,636 L470.5,629" style="stroke-width:3.12"/>
<path class="t" d="M476,531 Q466,575.5 476,620 M481,533 Q473,575.5 481,618"/>
<!-- handwheel -->
<path class="w" d="M501,510.5 Q493.5,512 491.5,530 Q484,575.5 491.5,621 Q493.5,639 501,640.5 L518,640.5 Q525,639 527,621 Q535.5,575.5 527,530 Q525,512 518,510.5 Z"/>
<path class="b" d="M501,510.5 Q493.5,512 491.5,530 Q484,575.5 491.5,621 Q493.5,639 501,640.5 L518,640.5 Q525,639 527,621 Q535.5,575.5 527,530 Q525,512 518,510.5 Z"/>
<path class="t" d="M504,512 Q495,575.5 504,639 M508,511.5 Q499.5,575.5 508,639.5"/>
<ellipse class="b" cx="518.6" cy="575.5" rx="12.2" ry="46"/>
<ellipse class="k" cx="518.6" cy="575.5" rx="9.6" ry="40"/>
<ellipse class="b" cx="519.2" cy="575.3" rx="6.6" ry="21" style="stroke-width:2.8"/>
<ellipse class="f" cx="518.75" cy="575.5" rx="3.8" ry="10"/>
<ellipse cx="518.75" cy="575.5" rx="1.4" ry="5" fill="none" stroke="#fff" stroke-width="0.7"/>
<line class="b" x1="519" y1="575.5" x2="530" y2="575.5"/>
<!-- centerline -->
<line class="t" x1="283" y1="575.5" x2="540" y2="575.5" stroke-dasharray="24 2 2 2"/>
</g>
<!-- ================= DIMENSIONS ================= -->
<g id="dims">
<!-- A -->
<line class="t" x1="80" y1="353.5" x2="361.75" y2="353.5"/>
<path class="f" d="M80,353.5 l5,-1 v2 z M361.75,353.5 l-5,-1 v2 z"/>
<!-- 950 -->
<line class="t" x1="53.75" y1="372.5" x2="400.75" y2="372.5"/>
<path class="f" d="M53.75,372.5 l5,-1 v2 z M400.75,372.5 l-5,-1 v2 z"/>
<line class="t" x1="400.5" y1="322" x2="400.5" y2="376"/>
<!-- 530 -->
<line class="t" x1="625.75" y1="355.5" x2="819.6" y2="355.5"/>
<path class="f" d="M625.75,355.7 l5,-1 v2 z M819.6,355.7 l-5,-1 v2 z"/>
<!-- 720 -->
<line class="t" x1="588" y1="377.5" x2="852" y2="377.5"/>
<path class="f" d="M590,377.8 l5,-1 v2 z M852,377.8 l-5,-1 v2 z"/>
<!-- 1170 ticks -->
<path class="f" d="M571.3,17.5 l-1,5 h2 z M571.3,334 l-1,-5 h2 z"/>

<!-- phi symbols -->
<g transform="translate(169,291) rotate(-27)"><ellipse class="k" cx="0" cy="0" rx="3.6" ry="4.6" transform="skewX(-12)"/><line class="k" x1="-1.8" y1="8" x2="1.8" y2="-8"/></g>
<g transform="translate(79.7,34) rotate(40)"><ellipse class="k" cx="0" cy="0" rx="3.8" ry="4.6" transform="skewX(-12)"/><line class="k" x1="-1.7" y1="7.5" x2="1.7" y2="-7.5"/></g>
</g>
<g id="dimtext">
<g transform="translate(186.20,348.40) rotate(0.0)" fill="none" stroke="#000" stroke-width="1.00" stroke-linejoin="round" stroke-linecap="round"><path d="M0,8 L2.2,0 L4,8 M0.7,5.6 L3.5,5.6" transform="translate(2.41,-9.00) skewX(-15) scale(0.825,1.125)" vector-effect="non-scaling-stroke"/></g>
<g transform="translate(215.50,367.40) rotate(0.0)" fill="none" stroke="#000" stroke-width="1.00" stroke-linejoin="round" stroke-linecap="round"><path d="M0,6.8 Q0,8 1.5,8 L2.5,8 Q4,8 4,6.5 L4,1.5 Q4,0 2.5,0 L1.5,0 Q0,0 0,1.5 L0,3 Q0,4.5 1.5,4.5 L2.5,4.5 Q4,4.5 4,3" transform="translate(2.49,-9.30) skewX(-15) scale(0.775,1.163)" vector-effect="non-scaling-stroke"/><path d="M4,0 L0.5,0 L0,3.6 Q1,3 2.3,3 Q4,3 4,4.8 L4,6.4 Q4,8 2.4,8 L1.6,8 Q0,8 0,6.6" transform="translate(9.09,-9.30) skewX(-15) scale(0.775,1.163)" vector-effect="non-scaling-stroke"/><path d="M1.3,0 L2.7,0 Q4,0 4,1.3 L4,6.7 Q4,8 2.7,8 L1.3,8 Q0,8 0,6.7 L0,1.3 Q0,0 1.3,0 Z" transform="translate(15.69,-9.30) skewX(-15) scale(0.775,1.163)" vector-effect="non-scaling-stroke"/></g>
<g transform="translate(250.30,392.50) rotate(0.0)" fill="none" stroke="#000" stroke-width="1.00" stroke-linejoin="round" stroke-linecap="round"><path d="M0.6,2.2 L2.8,0 L2.8,8" transform="translate(2.68,-10.00) skewX(-15) scale(0.800,1.250)" vector-effect="non-scaling-stroke"/><path d="M0,0 L4,0 L1.8,3.3 L2.5,3.3 Q4,3.3 4,4.8 L4,6.5 Q4,8 2.5,8 L1.5,8 Q0,8 0,6.6" transform="translate(7.38,-10.00) skewX(-15) scale(0.800,1.250)" vector-effect="non-scaling-stroke"/><path d="M0,6.8 Q0,8 1.5,8 L2.5,8 Q4,8 4,6.5 L4,1.5 Q4,0 2.5,0 L1.5,0 Q0,0 0,1.5 L0,3 Q0,4.5 1.5,4.5 L2.5,4.5 Q4,4.5 4,3" transform="translate(13.68,-10.00) skewX(-15) scale(0.800,1.250)" vector-effect="non-scaling-stroke"/><path d="M0,0 L4,0 L1.8,3.3 L2.5,3.3 Q4,3.3 4,4.8 L4,6.5 Q4,8 2.5,8 L1.5,8 Q0,8 0,6.6" transform="translate(19.98,-10.00) skewX(-15) scale(0.800,1.250)" vector-effect="non-scaling-stroke"/></g>
<g transform="translate(735.20,350.60) rotate(0.0)" fill="none" stroke="#000" stroke-width="1.00" stroke-linejoin="round" stroke-linecap="round"><path d="M4,0 L0.5,0 L0,3.6 Q1,3 2.3,3 Q4,3 4,4.8 L4,6.4 Q4,8 2.4,8 L1.6,8 Q0,8 0,6.6" transform="translate(2.49,-9.30) skewX(-15) scale(0.775,1.163)" vector-effect="non-scaling-stroke"/><path d="M0,0 L4,0 L1.8,3.3 L2.5,3.3 Q4,3.3 4,4.8 L4,6.5 Q4,8 2.5,8 L1.5,8 Q0,8 0,6.6" transform="translate(8.79,-9.30) skewX(-15) scale(0.775,1.163)" vector-effect="non-scaling-stroke"/><path d="M1.3,0 L2.7,0 Q4,0 4,1.3 L4,6.7 Q4,8 2.7,8 L1.3,8 Q0,8 0,6.7 L0,1.3 Q0,0 1.3,0 Z" transform="translate(15.09,-9.30) skewX(-15) scale(0.775,1.163)" vector-effect="non-scaling-stroke"/></g>
<g transform="translate(695.20,372.90) rotate(0.0)" fill="none" stroke="#000" stroke-width="1.00" stroke-linejoin="round" stroke-linecap="round"><path d="M0,0 L4,0 L1.3,8" transform="translate(2.49,-9.30) skewX(-15) scale(0.775,1.163)" vector-effect="non-scaling-stroke"/><path d="M0,1.6 Q0,0 1.5,0 L2.5,0 Q4,0 4,1.5 L4,2.5 Q4,3.6 3,4.5 L0,8 L4,8" transform="translate(9.09,-9.30) skewX(-15) scale(0.775,1.163)" vector-effect="non-scaling-stroke"/><path d="M1.3,0 L2.7,0 Q4,0 4,1.3 L4,6.7 Q4,8 2.7,8 L1.3,8 Q0,8 0,6.7 L0,1.3 Q0,0 1.3,0 Z" transform="translate(15.69,-9.30) skewX(-15) scale(0.775,1.163)" vector-effect="non-scaling-stroke"/></g>
<g transform="translate(567.30,214.60) rotate(-90.0)" fill="none" stroke="#000" stroke-width="1.00" stroke-linejoin="round" stroke-linecap="round"><path d="M0.6,2.2 L2.8,0 L2.8,8" transform="translate(2.57,-9.60) skewX(-15) scale(0.775,1.200)" vector-effect="non-scaling-stroke"/><path d="M0.6,2.2 L2.8,0 L2.8,8" transform="translate(7.57,-9.60) skewX(-15) scale(0.775,1.200)" vector-effect="non-scaling-stroke"/><path d="M0,0 L4,0 L1.3,8" transform="translate(12.57,-9.60) skewX(-15) scale(0.775,1.200)" vector-effect="non-scaling-stroke"/><path d="M1.3,0 L2.7,0 Q4,0 4,1.3 L4,6.7 Q4,8 2.7,8 L1.3,8 Q0,8 0,6.7 L0,1.3 Q0,0 1.3,0 Z" transform="translate(18.97,-9.60) skewX(-15) scale(0.775,1.200)" vector-effect="non-scaling-stroke"/></g>
<g transform="translate(179.60,291.30) rotate(-27.0)" fill="none" stroke="#000" stroke-width="1.00" stroke-linejoin="round" stroke-linecap="round"><path d="M3.1,8 L3.1,0 L0,5.6 L4,5.6" transform="translate(2.49,-9.30) skewX(-15) scale(0.775,1.163)" vector-effect="non-scaling-stroke"/><path d="M0,0 L4,0 L1.8,3.3 L2.5,3.3 Q4,3.3 4,4.8 L4,6.5 Q4,8 2.5,8 L1.5,8 Q0,8 0,6.6" transform="translate(8.79,-9.30) skewX(-15) scale(0.775,1.163)" vector-effect="non-scaling-stroke"/><path d="M4,0 L0.5,0 L0,3.6 Q1,3 2.3,3 Q4,3 4,4.8 L4,6.4 Q4,8 2.4,8 L1.6,8 Q0,8 0,6.6" transform="translate(15.09,-9.30) skewX(-15) scale(0.775,1.163)" vector-effect="non-scaling-stroke"/></g>
<g transform="translate(86.40,45.60) rotate(40.0)" fill="none" stroke="#000" stroke-width="1.00" stroke-linejoin="round" stroke-linecap="round"><path d="M0.6,2.2 L2.8,0 L2.8,8" transform="translate(2.36,-8.80) skewX(-15) scale(0.800,1.100)" vector-effect="non-scaling-stroke"/><path d="M4,1.3 Q4,0 2.5,0 L1.5,0 Q0,0 0,1.5 L0,6.5 Q0,8 1.5,8 L2.5,8 Q4,8 4,6.5 L4,5 Q4,3.5 2.5,3.5 L1.5,3.5 Q0,3.5 0,5" transform="translate(7.76,-8.80) skewX(-15) scale(0.800,1.100)" vector-effect="non-scaling-stroke"/><path d="M1.3,0 L2.7,0 Q4,0 4,1.3 L4,6.7 Q4,8 2.7,8 L1.3,8 Q0,8 0,6.7 L0,1.3 Q0,0 1.3,0 Z" transform="translate(14.76,-8.80) skewX(-15) scale(0.800,1.100)" vector-effect="non-scaling-stroke"/></g>
<g transform="translate(45.70,161.20) rotate(76.0)" fill="none" stroke="#000" stroke-width="1.00" stroke-linejoin="round" stroke-linecap="round"><path d="M0,1.6 Q0,0 1.5,0 L2.5,0 Q4,0 4,1.5 L4,2.5 Q4,3.6 3,4.5 L0,8 L4,8" transform="translate(2.41,-9.00) skewX(-15) scale(0.775,1.125)" vector-effect="non-scaling-stroke"/><path d="M4,0 L0.5,0 L0,3.6 Q1,3 2.3,3 Q4,3 4,4.8 L4,6.4 Q4,8 2.4,8 L1.6,8 Q0,8 0,6.6" transform="translate(8.71,-9.00) skewX(-15) scale(0.775,1.125)" vector-effect="non-scaling-stroke"/></g>
</g>
<!-- ================= LOGO HEX ================= -->
<g id="logo" filter="url(#blur2)" opacity="0.66">
<clipPath id="lgA"><path d="M331,325 L345.5,315.5 L360.5,325 L360.5,335 L345.5,326.4 L331,335 Z"/></clipPath>
<clipPath id="lgB"><path d="M331,336.9 L345.5,328.3 L360.5,336.9 L360.5,339.8 L345.5,351.6 L331,339.8 Z"/></clipPath>
<clipPath id="lgC"><path d="M331,341.4 L345.5,353.2 L360.5,341.4 L360.5,356 L345.5,365.4 L331,356 Z"/></clipPath>
<g clip-path="url(#lgA)">
 <rect x="330" y="314" width="9.8" height="24" fill="#f98c4e"/>
 <rect x="339.5" y="314" width="13.3" height="24" fill="#f66d4e"/>
 <rect x="352.5" y="314" width="9" height="24" fill="#f64848"/>
</g>
<g clip-path="url(#lgB)">
 <rect x="330" y="326" width="9.8" height="28" fill="#aabdc3"/>
 <rect x="339.5" y="326" width="13.3" height="28" fill="#f64e42"/>
 <rect x="352.5" y="326" width="9" height="28" fill="#6d8c86"/>
</g>
<g clip-path="url(#lgC)">
 <rect x="330" y="340" width="9.8" height="28" fill="#8c9ea4"/>
 <rect x="339.5" y="340" width="13.3" height="28" fill="#6d868c"/>
 <rect x="352.5" y="340" width="9" height="28" fill="#86989e"/>
</g>
</g>
</svg>
</body></html>
